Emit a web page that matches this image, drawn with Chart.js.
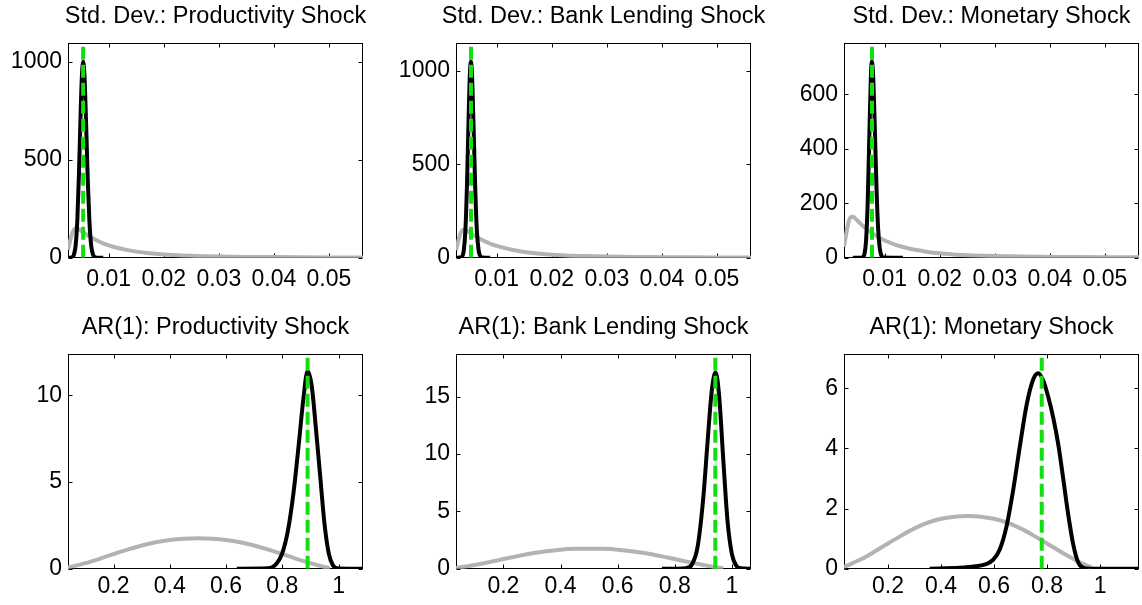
<!DOCTYPE html>
<html>
<head>
<title>Prior and posterior densities</title>
<style>
  body { margin: 0; background: #fff; overflow: hidden; }
  #wrap { position: relative; width: 1142px; height: 605px; overflow: hidden; }
  #wrap canvas { position: absolute; }
</style>
</head>
<body>
<div id="wrap">
  <canvas id="p0" width="420" height="300" style="left:8px;top:0px"></canvas>
  <canvas id="p1" width="420" height="300" style="left:396px;top:0px"></canvas>
  <canvas id="p2" width="420" height="300" style="left:784px;top:0px"></canvas>
  <canvas id="p3" width="420" height="300" style="left:8px;top:311px"></canvas>
  <canvas id="p4" width="420" height="300" style="left:396px;top:311px"></canvas>
  <canvas id="p5" width="420" height="300" style="left:784px;top:311px"></canvas>
</div>

<script src="https://cdn.jsdelivr.net/npm/chart.js@4.4.1/dist/chart.umd.min.js"></script>
<script>
// titles
const titles = [
  'Std. Dev.: Productivity Shock', 'Std. Dev.: Bank Lending Shock', 'Std. Dev.: Monetary Shock',
  'AR(1): Productivity Shock', 'AR(1): Bank Lending Shock', 'AR(1): Monetary Shock'
];

// tick labels
const sdTicksX = [0.01, 0.02, 0.03, 0.04, 0.05];
const sdLabelsX = ['0.01', '0.02', '0.03', '0.04', '0.05'];
const arTicksX = [0.2, 0.4, 0.6, 0.8, 1];
const arLabelsX = ['0.2', '0.4', '0.6', '0.8', '1'];
const yTicks = [
  [0, 500, 1000], [0, 500, 1000], [0, 200, 400, 600],
  [0, 5, 10], [0, 5, 10, 15], [0, 2, 4, 6]
];

// axis limits
const xMin = [0.0026, 0.0026, 0.0026, 0.038, 0.034, 0.034];
const xMax = [0.0562, 0.0562, 0.0562, 1.087, 1.067, 1.147];
const yMax = [1097, 1150, 789, 12.4, 18.75, 7.15];

// green dashed line (mode / calibrated value)
const markValues = [0.00535, 0.00533, 0.00769, 0.89, 0.942, 0.78];

// prior densities (gray)
const sdPriorX = [0.0026, 0.0030, 0.0034, 0.0038, 0.0042, 0.0046, 0.0052, 0.0060, 0.0070, 0.0080,
  0.0090, 0.0100, 0.0115, 0.0130, 0.0150, 0.0170, 0.0195, 0.0225, 0.0260, 0.0300,
  0.0350, 0.0400, 0.0450, 0.0500, 0.0562];
const sdPriorY = [40, 88, 128, 148, 150, 145, 133, 117, 100, 86,
  73, 63, 51, 41, 31, 24, 17, 12, 8.5, 6,
  4, 3, 2.2, 1.6, 1.2];
const arPriorX = [0.034, 0.05, 0.1, 0.15, 0.2, 0.25, 0.3, 0.35, 0.4, 0.45, 0.5, 0.55,
  0.6, 0.65, 0.7, 0.75, 0.8, 0.85, 0.9, 0.95, 0.97];
const arPriorY = [0.06, 0.12, 0.32, 0.57, 0.84, 1.10, 1.34, 1.53, 1.66, 1.73, 1.75, 1.73,
  1.66, 1.53, 1.34, 1.10, 0.84, 0.57, 0.32, 0.10, 0.03];

// posterior densities (black)
const postProdSdX = [0.0026, 0.0030, 0.0034, 0.0037, 0.0040, 0.0043, 0.0046, 0.0049, 0.0051, 0.00535,
  0.0056, 0.0059, 0.0062, 0.0065, 0.0068, 0.0071, 0.0075, 0.0080, 0.0090];
const postProdSdY = [0, 0, 4, 18, 66, 194, 435, 740, 911, 1000,
  923, 674, 390, 180, 65, 19, 3, 0, 0];
const postBankSdX = [0.0026, 0.0034, 0.0037, 0.0040, 0.0043, 0.0046, 0.0049, 0.0051, 0.0053,
  0.0055, 0.0058, 0.0061, 0.0064, 0.0067, 0.0070, 0.0074, 0.0088];
const postBankSdY = [0, 1, 6, 36, 142, 394, 762, 969, 1050,
  984, 693, 367, 142, 41, 9, 1, 0];
const postMonSdX = [0.0042, 0.0055, 0.0060, 0.0063, 0.0066, 0.0069, 0.0072, 0.0075, 0.00767,
  0.0079, 0.0082, 0.0085, 0.0088, 0.0091, 0.0094, 0.0098, 0.0133];
const postMonSdY = [0, 0, 2, 12, 60, 200, 445, 677, 720,
  665, 476, 260, 107, 34, 8, 1, 0];
const postProdArX = [0.638, 0.75, 0.78, 0.80, 0.82, 0.84, 0.86, 0.875, 0.89,
  0.905, 0.92, 0.935, 0.95, 0.965, 0.98, 1.0, 1.087];
const postProdArY = [0, 0.02, 0.3, 0.9, 2.2, 4.4, 7.4, 9.8, 11.4,
  10.5, 8.0, 5.3, 2.6, 0.9, 0.2, 0.01, 0];
const postBankArX = [0.755, 0.84, 0.86, 0.88, 0.90, 0.915, 0.93, 0.943,
  0.955, 0.97, 0.985, 1.0, 1.015, 1.03, 1.067];
const postBankArY = [0, 0.05, 0.37, 1.9, 6.2, 11.1, 15.6, 17.1,
  15.2, 9.5, 4.1, 1.3, 0.27, 0.03, 0];
const postMonArX = [0.357, 0.47, 0.53, 0.57, 0.597, 0.622, 0.647, 0.672, 0.698, 0.723, 0.748, 0.767,
  0.786, 0.805, 0.824, 0.843, 0.861, 0.88, 0.899, 0.918, 0.937, 0.96, 1.147];
const postMonArY = [0, 0.03, 0.08, 0.15, 0.3, 0.65, 1.4, 2.6, 4.1, 5.45, 6.3, 6.5,
  6.25, 5.7, 5.0, 4.1, 3.0, 1.8, 0.8, 0.2, 0.03, 0, 0];

const FONT = '"Liberation Sans", Arial, Helvetica, sans-serif';
const GRAY = 'rgb(179,179,179)';
const GREEN = 'rgb(16,224,16)';
const TICK = 4;

function pts(xs, ys) {
  return xs.map((x, i) => ({ x: x, y: ys[i] }));
}

// box around the plot with inward ticks on all four sides (matlab style),
// plus the title centred over the plot box
const framePlugin = {
  id: 'frame',
  beforeDatasetsDraw(chart) {
    const ctx = chart.ctx;
    const a = chart.chartArea;
    const xs = chart.scales.x, ys = chart.scales.y;
    const l = Math.round(a.left) + 0.5, r = Math.round(a.right) - 0.5;
    const t = Math.round(a.top) + 0.5, b = Math.round(a.bottom) - 0.5;
    ctx.save();
    ctx.strokeStyle = '#000';
    ctx.lineWidth = 1;
    ctx.strokeRect(l, t, r - l, b - t);
    ctx.beginPath();
    xs.ticks.forEach(tk => {
      const px = Math.round(xs.getPixelForValue(tk.value)) + 0.5;
      ctx.moveTo(px, b); ctx.lineTo(px, b - TICK);
      ctx.moveTo(px, t); ctx.lineTo(px, t + TICK);
    });
    ys.ticks.forEach(tk => {
      const py = Math.round(ys.getPixelForValue(tk.value)) + 0.5;
      ctx.moveTo(l, py); ctx.lineTo(l + TICK, py);
      ctx.moveTo(r, py); ctx.lineTo(r - TICK, py);
    });
    ctx.stroke();

    ctx.fillStyle = '#000';
    ctx.font = '23.5px ' + FONT;
    ctx.textAlign = 'center';
    ctx.textBaseline = 'middle';
    ctx.fillText(chart.options.plugins.frame.title, (a.left + a.right) / 2, 17);
    ctx.restore();
  }
};

function drawPanel(i, priorX, priorY, postX, postY, ticksX, labelsX, labelPad) {
  new Chart(document.getElementById('p' + i), {
    type: 'line',
    data: {
      datasets: [
        { data: pts([markValues[i], markValues[i]], [0, yMax[i]]), borderColor: GREEN,
          borderWidth: 4, borderDash: [13, 5], order: 0 },
        { data: pts(postX, postY), borderColor: '#000', borderWidth: 4, order: 1,
          cubicInterpolationMode: 'monotone' },
        { data: pts(priorX, priorY), borderColor: GRAY, borderWidth: 4, order: 2,
          cubicInterpolationMode: 'monotone' }
      ]
    },
    options: {
      responsive: false,
      animation: false,
      devicePixelRatio: 1,
      // plot box is 295 px wide; extra room on the right is for the title text
      layout: { padding: { left: 0, right: 65, top: 42.7, bottom: 0 } },
      elements: { point: { radius: 0 }, line: { borderJoinStyle: 'round' } },
      plugins: {
        legend: { display: false },
        tooltip: { enabled: false },
        title: { display: false },
        frame: { title: titles[i] }
      },
      scales: {
        x: {
          type: 'linear', min: xMin[i], max: xMax[i],
          grid: { display: false, drawTicks: false },
          border: { display: false },
          afterBuildTicks: s => { s.ticks = ticksX.map(v => ({ value: v })); },
          afterFit: s => { s.height = 300 - 42.7 - 215; },
          ticks: {
            autoSkip: false, maxRotation: 0, padding: labelPad, color: '#000',
            font: { family: FONT, size: 23 },
            callback: (v, k) => labelsX[k]
          }
        },
        y: {
          type: 'linear', min: 0, max: yMax[i],
          grid: { display: false, drawTicks: false },
          border: { display: false },
          afterBuildTicks: s => { s.ticks = yTicks[i].map(v => ({ value: v })); },
          afterFit: s => { s.width = 60; },
          ticks: {
            autoSkip: false, padding: 6, color: '#000',
            font: { family: FONT, size: 23 },
            callback: (v, k) => String(yTicks[i][k])
          }
        }
      }
    },
    plugins: [framePlugin]
  });
}

drawPanel(0, sdPriorX, sdPriorY, postProdSdX, postProdSdY, sdTicksX, sdLabelsX, 8);
drawPanel(1, sdPriorX, sdPriorY, postBankSdX, postBankSdY, sdTicksX, sdLabelsX, 8);
drawPanel(2, sdPriorX, sdPriorY, postMonSdX, postMonSdY, sdTicksX, sdLabelsX, 8);
drawPanel(3, arPriorX, arPriorY, postProdArX, postProdArY, arTicksX, arLabelsX, 4);
drawPanel(4, arPriorX, arPriorY, postBankArX, postBankArY, arTicksX, arLabelsX, 4);
drawPanel(5, arPriorX, arPriorY, postMonArX, postMonArY, arTicksX, arLabelsX, 4);
</script>
</body>
</html>
